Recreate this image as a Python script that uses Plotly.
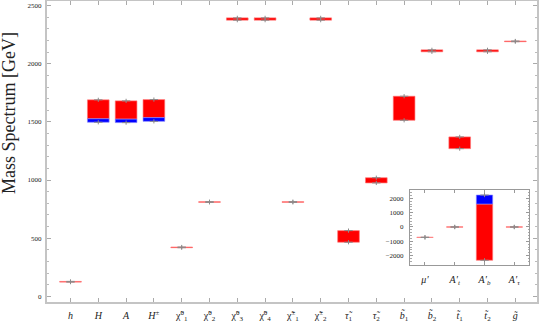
import plotly.graph_objects as go

# ---- main panel data (GeV) ----
categories = ["h", "H", "A", "H±", "χ1^0", "χ2^0", "χ3^0", "χ4^0", "χ1^±", "χ2^±",
              "τ1", "τ2", "b1", "b2", "t1", "t2", "g"]
tick_labels = ["<i>h</i>", "<i>H</i>", "<i>A</i>", "<i>H</i><sup>±</sup>",
               "χ̃<sup>0</sup><sub>1</sub>", "χ̃<sup>0</sup><sub>2</sub>",
               "χ̃<sup>0</sup><sub>3</sub>", "χ̃<sup>0</sup><sub>4</sub>",
               "χ̃<sup>±</sup><sub>1</sub>", "χ̃<sup>±</sup><sub>2</sub>",
               "<i>τ̃</i><sub>1</sub>", "<i>τ̃</i><sub>2</sub>",
               "<i>b̃</i><sub>1</sub>", "<i>b̃</i><sub>2</sub>",
               "<i>t̃</i><sub>1</sub>", "<i>t̃</i><sub>2</sub>", "<i>g̃</i>"]
red_low  = [122, 1527, 1524, 1537, 418, 808, 2375, 2375, 808, 2375, 465, 975, 1514, 2103, 1270, 2103, 2190]
red_high = [128, 1690, 1681, 1692, 424, 814, 2395, 2395, 814, 2395, 565, 1020, 1721, 2120, 1371, 2120, 2196]
blue_cats = ["H", "A", "H±"]
blue_low  = [1497, 1494, 1505]
blue_high = [1527, 1524, 1537]

# ---- inset data (GeV) ----
inset_categories = ["mu", "At", "Ab", "Atau"]
inset_labels = ["<i>μ′</i>", "<i>A′</i><sub><i>t</i></sub>", "<i>A′</i><sub><i>b</i></sub>",
                "<i>A′</i><sub><i>τ</i></sub>"]
inset_red_low  = [-725, -12, -2320, -12]
inset_red_high = [-715, 12, 1600, 12]
inset_blue_cats = ["Ab"]
inset_blue_low  = [1600]
inset_blue_high = [2230]

RED = "#ff0000"
BLUE = "#0000ff"
GRAY = "#8a8a8a"
FRAME = "#c4c4c4"
FONT = "Liberation Serif"

fig = go.Figure()


def add_panel(cats, rlo, rhi, bcats, blo, bhi, xa, ya, width):
    fig.add_trace(go.Bar(x=cats, y=[h - l for l, h in zip(rlo, rhi)], base=rlo,
                         marker=dict(color=RED, line=dict(color="rgba(255,120,120,0.8)", width=0.8)),
                         width=width, xaxis=xa, yaxis=ya, showlegend=False))
    fig.add_trace(go.Bar(x=bcats, y=[h - l for l, h in zip(blo, bhi)], base=blo,
                         marker=dict(color=BLUE, line=dict(color="rgba(140,140,255,0.8)", width=0.8)),
                         width=width, xaxis=xa, yaxis=ya, showlegend=False))
    lo = list(rlo)
    hi = list(rhi)
    for c, l, h in zip(bcats, blo, bhi):
        i = cats.index(c)
        lo[i] = min(lo[i], l)
        hi[i] = max(hi[i], h)
    fig.add_trace(go.Scatter(x=list(cats) + list(cats), y=lo + hi, mode="markers",
                             marker=dict(color=GRAY, size=6, symbol="line-ew",
                                         line=dict(color=GRAY, width=1)),
                             xaxis=xa, yaxis=ya, showlegend=False))
    fig.add_trace(go.Scatter(x=list(cats) + list(cats), y=lo + hi, mode="markers",
                             marker=dict(color=GRAY, size=3, symbol="line-ns",
                                         line=dict(color=GRAY, width=1)),
                             xaxis=xa, yaxis=ya, showlegend=False))


add_panel(categories, red_low, red_high, blue_cats, blue_low, blue_high, "x", "y", 0.78)
add_panel(inset_categories, inset_red_low, inset_red_high, inset_blue_cats,
          inset_blue_low, inset_blue_high, "x2", "y2", 0.55)

fig.update_layout(
    width=539, height=327,
    margin=dict(l=47, r=2, t=1, b=25, autoexpand=False),
    paper_bgcolor="white", plot_bgcolor="white",
    barmode="overlay",
    font=dict(family=FONT, color="#222"),
    xaxis=dict(type="category", categoryorder="array", categoryarray=categories,
               tickvals=categories, ticktext=tick_labels, range=[-0.845, 16.78],
               automargin=False,
               showgrid=False, zeroline=False, showline=True, linecolor=FRAME, linewidth=2,
               mirror="allticks", ticks="inside", ticklen=4, tickcolor="#aaaaaa",
               tickfont=dict(size=10, family=FONT), ticklabelstandoff=3),
    yaxis=dict(range=[-49, 2540], tickvals=[0, 500, 1000, 1500, 2000, 2500],
               automargin=False,
               showgrid=False, zeroline=False, showline=True, linecolor=FRAME, linewidth=2,
               mirror="allticks", ticks="inside", ticklen=4, tickcolor="#aaaaaa",
               tickfont=dict(size=7, family=FONT), ticklabelstandoff=2,
               minor=dict(dtick=100, tick0=0, ticks="inside", ticklen=2, tickcolor="#bbbbbb")),
    xaxis2=dict(domain=[0.741, 0.984], anchor="y2", type="category",
                categoryorder="array", categoryarray=inset_categories,
                tickvals=inset_categories, ticktext=inset_labels, range=[-0.5, 3.5],
                automargin=False,
                showgrid=False, zeroline=False, showline=True, linecolor="#999999", linewidth=1.2,
                mirror="allticks", ticks="inside", ticklen=3, tickcolor="#999999",
                tickfont=dict(size=10, family=FONT), ticklabelstandoff=5),
    yaxis2=dict(domain=[0.123, 0.372], anchor="x2", range=[-2648, 2578],
                tickvals=[-2000, -1000, 0, 1000, 2000],
                automargin=False,
                showgrid=False, zeroline=False, showline=True, linecolor="#999999", linewidth=1.2,
                mirror="allticks", ticks="inside", ticklen=3, tickcolor="#999999",
                tickfont=dict(size=7, family=FONT), ticklabelstandoff=4,
                minor=dict(dtick=200, tick0=0, ticks="inside", ticklen=1.5, tickcolor="#aaaaaa")),
    annotations=[dict(text="Mass Spectrum [GeV]", textangle=-90, xref="paper", yref="paper",
                      x=-0.0776, y=0.628, xanchor="center", yanchor="middle", showarrow=False,
                      font=dict(size=18, family=FONT, color="#222"))],
)

fig.write_html("out.html", config={"displayModeBar": False},
               post_script="document.body.style.margin='0';document.body.style.padding='0';")
